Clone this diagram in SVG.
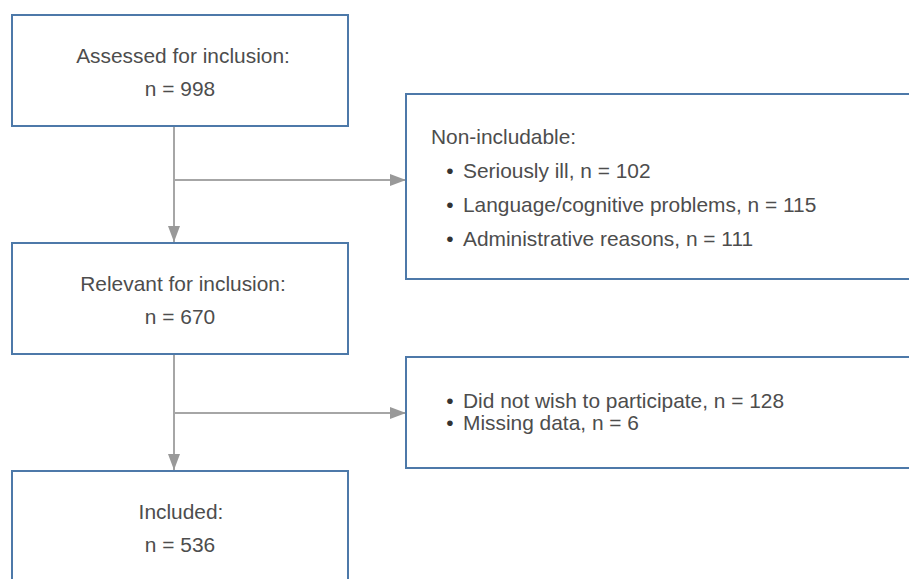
<svg xmlns="http://www.w3.org/2000/svg" width="909" height="579" viewBox="0 0 909 579">
  <style>
    .box { fill: #ffffff; stroke: #4d79a9; stroke-width: 2; }
    .t { font-family: "Liberation Sans", Arial, sans-serif; font-size: 20.9px; fill: #4d4d4d; }
    .c { text-anchor: middle; }
    .b { fill: #333333; }
    .conn { stroke: #a6a6a6; stroke-width: 2; fill: none; }
  </style>
  <defs>
    <marker id="ah" markerWidth="16" markerHeight="12" refX="16" refY="6" orient="auto" markerUnits="userSpaceOnUse">
      <path d="M0,0 L16,6 L0,12 Z" fill="#999999"/>
    </marker>
  </defs>
  <rect width="909" height="579" fill="#ffffff"/>

  <g id="connectors">
    <line class="conn" x1="174" y1="127" x2="174" y2="242" marker-end="url(#ah)"/>
    <line class="conn" x1="174" y1="180" x2="406" y2="180" marker-end="url(#ah)"/>
    <line class="conn" x1="174" y1="355" x2="174" y2="470" marker-end="url(#ah)"/>
    <line class="conn" x1="174" y1="413" x2="406" y2="413" marker-end="url(#ah)"/>
  </g>

  <g id="assessed">
    <rect class="box" x="12" y="15" width="336" height="111"/>
    <text class="t c" x="183" y="63">Assessed for inclusion:</text>
    <text class="t c" x="180" y="96">n = 998</text>
  </g>

  <g id="relevant">
    <rect class="box" x="12" y="243" width="336" height="111"/>
    <text class="t c" x="183" y="291">Relevant for inclusion:</text>
    <text class="t c" x="180" y="324">n = 670</text>
  </g>

  <g id="included">
    <rect class="box" x="12" y="471" width="336" height="130"/>
    <text class="t c" x="181" y="519">Included:</text>
    <text class="t c" x="180" y="552">n = 536</text>
  </g>

  <g id="nonincludable">
    <rect class="box" x="406" y="94" width="520" height="185"/>
    <text class="t" x="431" y="144">Non-includable:</text>
    <text class="t c b" x="450" y="178">•</text>
    <text class="t" x="463" y="178">Seriously ill, n = 102</text>
    <text class="t c b" x="450" y="212">•</text>
    <text class="t" x="463" y="212">Language/cognitive problems, n = 115</text>
    <text class="t c b" x="450" y="246">•</text>
    <text class="t" x="463" y="246">Administrative reasons, n = 111</text>
  </g>

  <g id="declined">
    <rect class="box" x="406" y="357" width="520" height="111"/>
    <text class="t c b" x="450" y="408">•</text>
    <text class="t" x="463" y="408">Did not wish to participate, n = 128</text>
    <text class="t c b" x="450" y="430">•</text>
    <text class="t" x="463" y="430">Missing data, n = 6</text>
  </g>
</svg>
